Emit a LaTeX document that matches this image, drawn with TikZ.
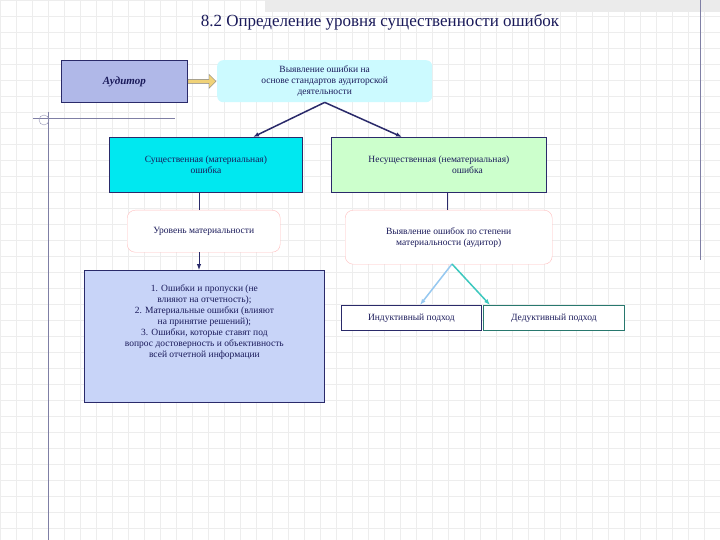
\documentclass[tikz,border=0pt]{standalone}
\usepackage{fontspec}
\setmainfont{Liberation Serif}
\usetikzlibrary{arrows.meta,shapes.arrows}
\definecolor{txt}{HTML}{1A1A5A}
\definecolor{navy}{HTML}{2A2A6A}
\definecolor{audfill}{RGB}{176,184,232}
\definecolor{topfill}{RGB}{204,250,255}
\definecolor{yell}{RGB}{240,210,120}
\definecolor{cyanfill}{RGB}{0,232,240}
\definecolor{greenfill}{RGB}{204,255,204}
\definecolor{listfill}{RGB}{200,212,248}
\definecolor{teal2}{RGB}{40,120,110}
\definecolor{lblue}{RGB}{150,200,240}
\definecolor{lteal}{RGB}{60,200,190}
\begin{document}
\begin{tikzpicture}[x=1pt,y=-1pt,
  lbl/.style={font=\fontsize{9.5}{11}\selectfont,text=txt,align=center},
  sq/.style={draw=navy,line width=0.8pt},
  rb/.style={draw=red!25,rounded corners=8pt,fill=white}]
\useasboundingbox (0,0) rectangle (720,540);
\fill[white] (0,0) rectangle (720,540);
\foreach \x in {0,16,...,720} \draw[black!7] (\x,0) -- (\x,540);
\foreach \y in {0,16,...,540} \draw[black!7] (0,\y) -- (720,\y);
\fill[black!8] (265,0) rectangle (720,12);
\draw[navy!60] (700,0) -- (700,260);
\draw[navy!60] (33,118) -- (175,118);
\draw[navy!60] (48,112) -- (48,540);
\draw[navy!50] (44,120) circle (5);
\node[font=\fontsize{17}{20}\selectfont,text=txt] (title) at (380,22) {8.2 Определение уровня существенности ошибок};
\node[sq,fill=audfill,minimum width=126,minimum height=42,anchor=north west,font=\fontsize{11}{13}\selectfont\bfseries\itshape,text=txt] (aud) at (61,60) {Аудитор};
\node[fill=topfill,rounded corners=6pt,minimum width=215,minimum height=42,anchor=north west,lbl] (top) at (217,60) {Выявление ошибки на\\основе стандартов аудиторской\\деятельности};
\node[single arrow,draw=black!50,fill=yell,minimum height=28,single arrow head extend=3pt,minimum width=14,inner sep=1pt,anchor=tail] (ya) at (aud.east) {};
\node[sq,fill=cyanfill,minimum width=193,minimum height=55,anchor=north west,lbl] (mat) at (109,137) {Существенная (материальная)\\ошибка};
\node[sq,fill=greenfill,minimum width=215,minimum height=55,anchor=north west,lbl] (nmat) at (331,137) {Несущественная (нематериальная)\\\hspace*{6em}ошибка};
\node[rb,minimum width=153,minimum height=42,anchor=north west,lbl] (lvl) at (127,210) {Уровень материальности};
\node[rb,minimum width=207,minimum height=54,anchor=north west,lbl] (det) at (345,210) {Выявление ошибок по степени\\материальности (аудитор)};
\node[sq,fill=listfill,minimum width=240,minimum height=132,anchor=north west,lbl,text depth=30pt] (list) at (84,270) {1. Ошибки и пропуски (не\\влияют на отчетность);\\2. Материальные ошибки (влияют\\на принятие решений);\\3. Ошибки, которые ставят под\\вопрос достоверность и объективность\\всей отчетной информации};
\node[draw=navy,line width=0.8pt,fill=white,minimum width=140,minimum height=25,anchor=north west,lbl] (ind) at (341,305) {Индуктивный подход};
\node[draw=teal2,line width=0.8pt,fill=white,minimum width=141,minimum height=25,anchor=north west,lbl] (ded) at (483,305) {Дедуктивный подход};
\draw[navy,line width=1.5pt,-{Latex[length=6pt]}] (top.south) -- (253,137);
\draw[navy,line width=1.5pt,-{Latex[length=6pt]}] (top.south) -- (402,137);
\draw[navy] (199,192) -- (199,210);
\draw[navy] (447,192) -- (447,210);
\draw[navy,line width=1pt,-{Latex[length=6pt]}] (199,252) -- (199,270);
\draw[lblue,line width=1.5pt,-{Latex[length=6pt]}] (452,264) -- (420,305);
\draw[lteal,line width=1.5pt,-{Latex[length=6pt]}] (452,264) -- (490,305);
\end{tikzpicture}
\end{document}
